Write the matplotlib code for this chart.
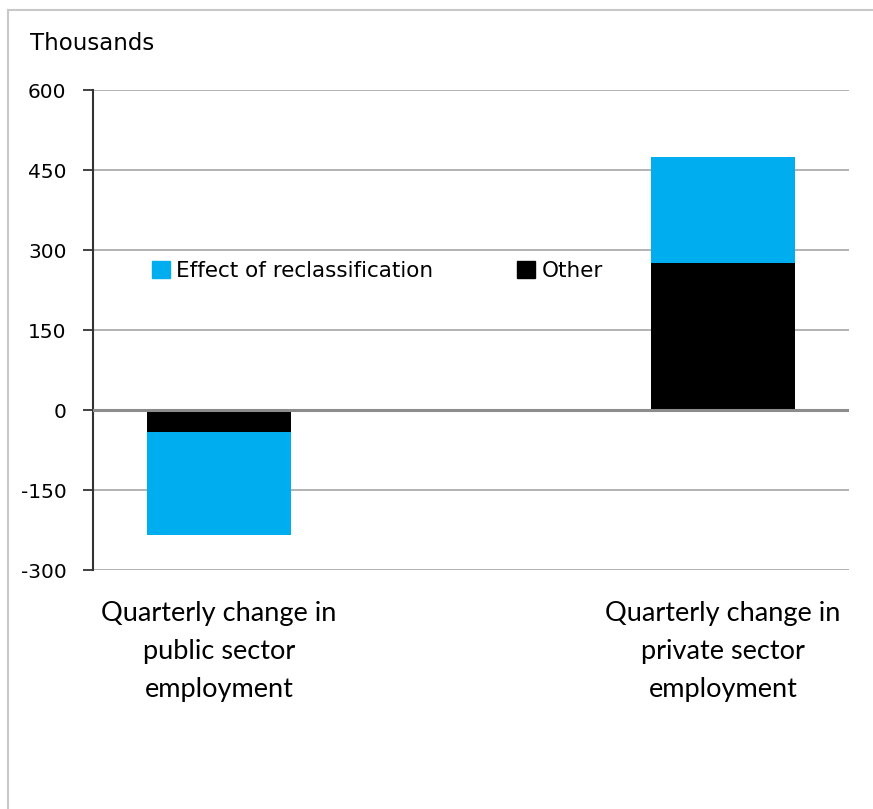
import numpy as np
import matplotlib.pyplot as plt
from matplotlib.patches import Patch
from matplotlib.lines import Line2D

# Categories (middle slot is empty in the original chart)
categories = ['Quarterly change in\npublic sector\nemployment', '',
              'Quarterly change in\nprivate sector\nemployment']
other = [-41, 0, 276]
reclass = [-193, 0, 198]

yticks = [-300, -150, 0, 150, 300, 450, 600]

blue = '#00AEEF'
grid_col = '#a6a6a6'

fig = plt.figure(figsize=(8.73, 8.09), dpi=100)
ax = fig.add_axes([93/873, 1-570/809, 756/873, 480/809])

x = np.arange(len(categories))
keep = [0, 2]
ax.bar(x[keep], np.array(other)[keep], width=0.57, color='black', zorder=3)
ax.bar(x[keep], np.array(reclass)[keep], width=0.57, bottom=np.array(other)[keep],
       color=blue, zorder=3)

ax.set_xlim(-0.5, 2.5)
ax.set_ylim(-300, 600)
ax.set_yticks(yticks)
ax.set_yticklabels([str(t) for t in yticks], fontsize=14.5, family='DejaVu Sans')
ax.tick_params(axis='y', length=7, width=1.3, color='#333333', pad=12)

# category labels
ax.set_xticks([0, 2])
ax.set_xticklabels([categories[0], categories[2]], fontsize=19.5,
                   family=['Lato'], linespacing=1.65)
ax.tick_params(axis='x', length=0, pad=22)

# gridlines
for t in yticks:
    if t == 0:
        ax.axhline(0, color='#8c8c8c', lw=2.2, zorder=4)
    else:
        ax.axhline(t, color=grid_col, lw=1.2, zorder=1)

for s in ['top', 'right', 'bottom']:
    ax.spines[s].set_visible(False)
ax.spines['left'].set_color('#333333')
ax.spines['left'].set_linewidth(1.5)

fig.text(30/873, 1-44/809, 'Thousands', fontsize=16.5, va='center', ha='left')

handles = [Patch(color=blue, label='Effect of reclassification'),
           Patch(color='black', label='Other')]
fig.legend(handles=handles, loc='center left', bbox_to_anchor=(152/873, 1-271/809),
           ncol=2, frameon=False, fontsize=15.5, borderpad=0, borderaxespad=0,
           handlelength=0.82, handleheight=0.82, handletextpad=0.3,
           columnspacing=3.9)

# light outer frame of the original chart
fig.add_artist(Line2D([8/873, 1], [1-10/809, 1-10/809], color='#c8c8c8', lw=1.5,
                      transform=fig.transFigure))
fig.add_artist(Line2D([8/873, 8/873], [0, 1-10/809], color='#c8c8c8', lw=1.5,
                      transform=fig.transFigure))

fig.savefig('out.png', dpi=100)
